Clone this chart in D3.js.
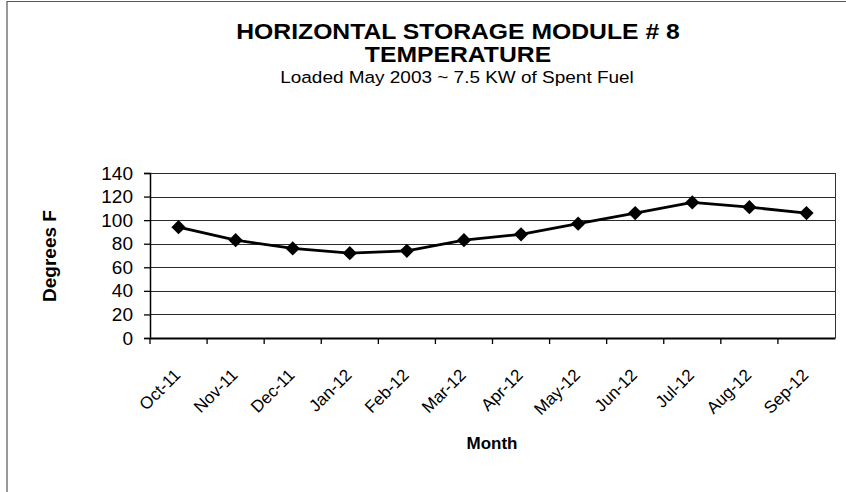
<!DOCTYPE html>
<html>
<head>
<meta charset="utf-8">
<script src="https://cdn.jsdelivr.net/npm/d3@7"></script>
<style>
  body { margin: 0; background: #fff; }
  text { font-family: Arial, "Liberation Sans", sans-serif; fill: #000; }
</style>
</head>
<body>
<div id="chart"></div>
<script>
// data
var months = ["Oct-11", "Nov-11", "Dec-11", "Jan-12", "Feb-12", "Mar-12",
              "Apr-12", "May-12", "Jun-12", "Jul-12", "Aug-12", "Sep-12"];
var temps = [94, 83, 76, 72, 74, 83, 88, 97, 106, 115, 111, 106];
var yTicks = [0, 20, 40, 60, 80, 100, 120, 140];

var W = 846, H = 492;
var margin = { top: 173, right: 11, bottom: 154, left: 150 },
    width = W - margin.left - margin.right,
    height = H - margin.top - margin.bottom;

var svg = d3.select("#chart").append("svg")
    .attr("width", W)
    .attr("height", H);

// frame (left and top edges show in the scan)
svg.append("line").attr("x1", 7).attr("x2", 7).attr("y1", 1).attr("y2", H)
    .attr("stroke", "#333").attr("stroke-width", 1);
svg.append("line").attr("x1", 7).attr("x2", W).attr("y1", 1.5).attr("y2", 1.5)
    .attr("stroke", "#555").attr("stroke-width", 1);

// titles (scan is a bit wide, so stretch text sideways)
function title(txt, cx, cy, size, bold) {
    svg.append("text")
        .attr("transform", "translate(" + cx + "," + cy + ") scale(1.15,1)")
        .attr("text-anchor", "middle")
        .style("font-size", size + "px")
        .style("font-weight", bold ? "bold" : "normal")
        .text(txt);
}
title("HORIZONTAL STORAGE MODULE # 8", 458, 39, 21.5, true);
title("TEMPERATURE", 458, 62, 21.5, true);
title("Loaded May 2003 ~ 7.5 KW of Spent Fuel", 457, 83, 16.5, false);

var g = svg.append("g")
    .attr("transform", "translate(" + margin.left + "," + margin.top + ")");

var x = d3.scaleBand().domain(months).range([0, width]);
var y = d3.scaleLinear().domain([0, 140]).range([height, 0]);

// gridlines
g.selectAll(".grid").data(yTicks.filter(function(d) { return d > 0; }))
  .enter().append("line")
    .attr("class", "grid")
    .attr("x1", 0).attr("x2", width)
    .attr("y1", function(d) { return Math.round(y(d)) + 0.5; })
    .attr("y2", function(d) { return Math.round(y(d)) + 0.5; })
    .attr("stroke", "#2a2a2a").attr("stroke-width", 1.2);

// right edge of plot
g.append("line").attr("x1", width + 0.5).attr("x2", width + 0.5)
    .attr("y1", 0).attr("y2", height)
    .attr("stroke", "#333").attr("stroke-width", 1);

// y axis
var yAxis = g.append("g")
    .call(d3.axisLeft(y).tickValues(yTicks).tickSize(6).tickPadding(11));
yAxis.select(".domain").attr("stroke", "#000").attr("stroke-width", 1.5);
yAxis.selectAll(".tick line").attr("stroke", "#000").attr("stroke-width", 1.3);
yAxis.selectAll("text").style("font-size", "19px").attr("fill", "#000");

// x axis, ticks sit on the category boundaries
var xAxis = g.append("g")
    .attr("transform", "translate(0," + height + ")")
    .call(d3.axisBottom(x).tickSize(0).tickPadding(0));
xAxis.select(".domain").attr("stroke", "#000").attr("stroke-width", 2);
xAxis.selectAll(".tick line").remove();
xAxis.selectAll(".tick text")
    .style("font-size", "17px").attr("fill", "#000")
    .attr("text-anchor", "end")
    .attr("dy", 0).attr("y", 0)
    .attr("transform", "translate(3,38) rotate(-45)");

g.selectAll(".xtick").data(months)
  .enter().append("line")
    .attr("class", "xtick")
    .attr("x1", function(d) { return x(d); })
    .attr("x2", function(d) { return x(d); })
    .attr("y1", height).attr("y2", height + 6)
    .attr("stroke", "#000").attr("stroke-width", 1.3);

// axis titles
svg.append("text")
    .attr("transform", "translate(56,256) rotate(-90)")
    .attr("text-anchor", "middle").style("font-size", "19px").style("font-weight", "bold")
    .text("Degrees F");
svg.append("text").attr("x", 492).attr("y", 449)
    .attr("text-anchor", "middle").style("font-size", "17px").style("font-weight", "bold")
    .text("Month");

// series line
var line = d3.line()
    .x(function(d, i) { return x(months[i]) + x.bandwidth() / 2; })
    .y(function(d) { return y(d); });

g.append("path").datum(temps)
    .attr("d", line)
    .attr("fill", "none")
    .attr("stroke", "#000")
    .attr("stroke-width", 2.8);

g.selectAll(".pt").data(temps)
  .enter().append("path")
    .attr("class", "pt")
    .attr("d", d3.symbol().type(d3.symbolDiamond2).size(130))
    .attr("transform", function(d, i) {
        return "translate(" + (x(months[i]) + x.bandwidth() / 2) + "," + y(d) + ")";
    })
    .attr("fill", "#000");
</script>
</body>
</html>
